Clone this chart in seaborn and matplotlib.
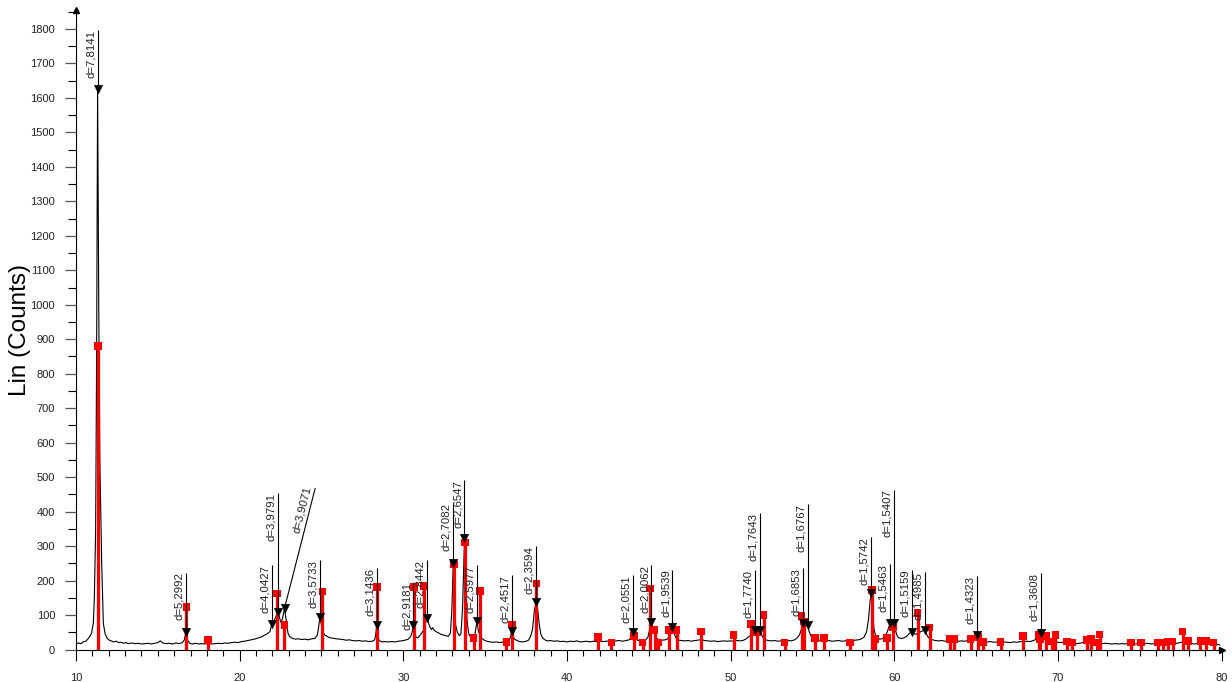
import numpy as np
import pandas as pd
import matplotlib
matplotlib.use("Agg")
import matplotlib.pyplot as plt
import matplotlib.transforms as mtransforms
from matplotlib.ticker import MultipleLocator
import seaborn as sns

# ---------------------------------------------------------------- scan data
two_theta = [
    10.00, 10.15, 10.30, 10.45, 10.60, 10.72, 10.85, 10.95, 11.06, 11.12, 11.20, 11.26,
    11.32, 11.39, 11.46, 11.57, 11.67, 11.78, 11.90, 12.00, 12.15, 12.30, 12.45, 12.60,
    12.75, 12.90, 13.05, 13.20, 13.40, 13.60, 13.80, 14.00, 14.20, 14.40, 14.60, 14.80,
    15.00, 15.15, 15.30, 15.50, 15.70, 15.90, 16.10, 16.30, 16.50, 16.62, 16.72, 16.82,
    16.95, 17.10, 17.30, 17.50, 17.70, 17.90, 18.10, 18.30, 18.50, 18.70, 18.90, 19.10,
    19.30, 19.50, 19.70, 19.90, 20.10, 20.30, 20.50, 20.70, 20.90, 21.10, 21.30, 21.50,
    21.70, 21.85, 21.97, 22.10, 22.22, 22.32, 22.42, 22.52, 22.62, 22.74, 22.84, 22.95,
    23.05, 23.20, 23.40, 23.60, 23.80, 24.00, 24.20, 24.40, 24.60, 24.75, 24.84, 24.90,
    24.97, 25.08, 25.20, 25.35, 25.50, 25.70, 25.90, 26.10, 26.30, 26.50, 26.70, 26.90,
    27.10, 27.30, 27.50, 27.70, 27.90, 28.10, 28.25, 28.32, 28.37, 28.43, 28.52, 28.70,
    28.90, 29.10, 29.30, 29.50, 29.70, 29.90, 30.10, 30.30, 30.45, 30.55, 30.61, 30.68,
    30.78, 30.90, 31.00, 31.10, 31.22, 31.33, 31.43, 31.52, 31.62, 31.72, 31.80, 31.90,
    32.00, 32.10, 32.20, 32.30, 32.45, 32.60, 32.75, 32.88, 32.97, 33.05, 33.12, 33.20,
    33.30, 33.42, 33.52, 33.62, 33.74, 33.82, 33.90, 34.00, 34.12, 34.25, 34.38, 34.50,
    34.58, 34.68, 34.80, 34.95, 35.10, 35.30, 35.50, 35.70, 35.90, 36.10, 36.30, 36.45,
    36.55, 36.62, 36.70, 36.80, 36.95, 37.10, 37.30, 37.50, 37.65, 37.78, 37.90, 38.00,
    38.11, 38.20, 38.30, 38.40, 38.52, 38.65, 38.80, 39.00, 39.20, 39.40, 39.60, 39.80,
    40.00, 40.20, 40.40, 40.60, 40.80, 41.00, 41.20, 41.40, 41.60, 41.80, 42.00, 42.20,
    42.40, 42.60, 42.80, 43.00, 43.20, 43.40, 43.60, 43.80, 43.93, 44.03, 44.12, 44.25,
    44.40, 44.60, 44.80, 44.95, 45.06, 45.16, 45.25, 45.35, 45.48, 45.60, 45.80, 46.00,
    46.15, 46.30, 46.44, 46.55, 46.68, 46.85, 47.00, 47.20, 47.40, 47.60, 47.80, 48.00,
    48.20, 48.40, 48.60, 48.80, 49.00, 49.20, 49.40, 49.60, 49.80, 50.00, 50.20, 50.40,
    50.60, 50.80, 50.95, 51.10, 51.25, 51.38, 51.47, 51.58, 51.68, 51.78, 51.88, 52.00,
    52.15, 52.30, 52.50, 52.70, 52.90, 53.10, 53.30, 53.50, 53.70, 53.90, 54.05, 54.20,
    54.30, 54.40, 54.50, 54.60, 54.70, 54.80, 54.92, 55.05, 55.20, 55.40, 55.60, 55.80,
    56.00, 56.20, 56.40, 56.60, 56.80, 57.00, 57.20, 57.40, 57.60, 57.80, 58.00, 58.15,
    58.30, 58.42, 58.52, 58.60, 58.68, 58.76, 58.86, 58.98, 59.10, 59.25, 59.40, 59.52,
    59.62, 59.70, 59.76, 59.85, 59.92, 59.99, 60.07, 60.17, 60.30, 60.45, 60.60, 60.75,
    60.88, 60.98, 61.08, 61.18, 61.30, 61.42, 61.55, 61.68, 61.78, 61.87, 61.96, 62.08,
    62.20, 62.35, 62.50, 62.70, 62.90, 63.10, 63.30, 63.50, 63.70, 63.90, 64.10, 64.30,
    64.50, 64.70, 64.88, 64.98, 65.07, 65.17, 65.30, 65.50, 65.70, 65.90, 66.10, 66.30,
    66.50, 66.70, 66.90, 67.10, 67.30, 67.50, 67.70, 67.90, 68.10, 68.30, 68.50, 68.70,
    68.85, 68.95, 69.05, 69.20, 69.35, 69.50, 69.70, 69.90, 70.10, 70.30, 70.50, 70.70,
    70.90, 71.10, 71.30, 71.50, 71.70, 71.90, 72.10, 72.30, 72.50, 72.70, 72.90, 73.10,
    73.30, 73.50, 73.70, 73.90, 74.10, 74.30, 74.50, 74.70, 74.90, 75.10, 75.30, 75.50,
    75.70, 75.90, 76.10, 76.30, 76.50, 76.70, 76.90, 77.10, 77.30, 77.50, 77.70, 77.90,
    78.10, 78.30, 78.50, 78.70, 78.90, 79.10, 79.30, 79.50, 79.70, 79.90,
]
counts = [
    16, 19, 17, 22, 24, 30, 38, 48, 76, 150, 345, 850,
    1625, 1000, 540, 250, 76, 45, 33, 28, 25, 22, 24, 20,
    21, 18, 20, 17, 19, 17, 18, 16, 17, 18, 16, 18,
    20, 25, 19, 17, 18, 16, 19, 17, 20, 28, 52, 27,
    18, 16, 18, 16, 17, 16, 18, 16, 17, 18, 17, 19,
    18, 20, 21, 20, 23, 24, 26, 28, 30, 33, 36, 41,
    46, 52, 74, 82, 96, 108, 95, 78, 90, 120, 85, 48,
    38, 33, 30, 31, 29, 30, 28, 31, 32, 42, 70, 95,
    78, 50, 42, 38, 34, 33, 31, 30, 29, 27, 28, 26,
    25, 26, 24, 25, 23, 24, 28, 45, 72, 45, 26, 22,
    23, 22, 23, 22, 24, 25, 27, 30, 38, 52, 72, 52,
    36, 34, 40, 46, 55, 72, 92, 80, 66, 58, 63, 55,
    52, 49, 47, 44, 42, 40, 38, 48, 120, 250, 140, 70,
    50, 40, 45, 120, 322, 180, 80, 45, 35, 31, 45, 82,
    55, 40, 32, 27, 24, 22, 21, 22, 20, 22, 23, 27,
    36, 53, 38, 30, 26, 23, 22, 24, 27, 38, 60, 110,
    138, 120, 75, 45, 33, 28, 25, 26, 24, 25, 23, 24,
    22, 24, 23, 25, 22, 23, 24, 22, 24, 23, 25, 23,
    24, 25, 23, 25, 26, 24, 26, 28, 36, 50, 36, 28,
    26, 27, 28, 36, 60, 80, 60, 44, 33, 29, 27, 28,
    31, 44, 64, 46, 32, 27, 26, 25, 26, 24, 26, 27,
    29, 26, 25, 24, 25, 23, 24, 25, 24, 25, 24, 26,
    25, 27, 31, 37, 42, 48, 57, 52, 53, 57, 44, 33,
    28, 26, 25, 26, 24, 25, 24, 26, 25, 28, 33, 42,
    55, 76, 72, 68, 70, 52, 38, 33, 29, 27, 26, 25,
    26, 24, 25, 26, 24, 25, 26, 25, 27, 28, 31, 36,
    50, 85, 140, 163, 110, 60, 40, 32, 30, 31, 36, 45,
    58, 70, 76, 72, 73, 76, 55, 40, 33, 32, 34, 38,
    44, 49, 52, 47, 44, 46, 50, 53, 55, 57, 45, 35,
    30, 28, 26, 25, 26, 24, 25, 24, 26, 24, 25, 24,
    26, 27, 32, 37, 42, 33, 26, 23, 22, 23, 21, 22,
    20, 22, 21, 20, 22, 21, 23, 22, 24, 23, 26, 30,
    38, 48, 36, 32, 34, 28, 25, 22, 20, 21, 19, 18,
    19, 17, 18, 20, 19, 21, 20, 18, 19, 17, 18, 17,
    16, 17, 16, 17, 16, 18, 17, 16, 17, 16, 17, 18,
    16, 17, 16, 18, 17, 18, 17, 19, 18, 21, 19, 17,
    18, 16, 17, 16, 18, 17, 16, 17, 15, 13,
]

# ------------------------------------------------------ reference stick pattern
ref_two_theta = [
    11.34, 16.75, 18.05, 22.28, 22.74, 25.05, 28.40, 30.65, 31.28, 33.09, 33.78, 34.29,
    34.67, 36.30, 36.63, 38.13, 41.90, 42.72, 44.10, 44.62, 45.08, 45.35, 45.55, 46.24,
    46.70, 48.20, 50.18, 51.24, 51.60, 52.02, 53.30, 54.34, 54.50, 55.17, 55.72, 57.31,
    58.64, 58.84, 59.55, 59.92, 61.42, 62.16, 63.42, 63.67, 64.66, 65.11, 65.41, 66.50,
    67.88, 68.85, 68.92, 69.29, 69.63, 69.84, 70.55, 70.85, 71.77, 72.03, 72.40, 72.54,
    74.47, 75.08, 76.10, 76.44, 76.71, 77.01, 77.62, 77.93, 78.70, 79.04, 79.51,
]
ref_counts = [
    880, 124, 28, 163, 71, 168, 182, 182, 185, 247, 310, 33,
    170, 21, 73, 192, 37, 20, 40, 20, 177, 57, 20, 57,
    57, 52, 42, 74, 49, 100, 20, 97, 81, 33, 34, 20,
    172, 30, 33, 64, 105, 64, 30, 30, 30, 37, 21, 21,
    40, 42, 30, 39, 23, 42, 23, 20, 28, 30, 20, 44,
    20, 20, 20, 20, 23, 23, 52, 25, 25, 25, 20,
]

# ------------------------------------------------------- labelled peaks (d, A)
d_spacings = [
    7.8141, 5.2992, 4.0427, 3.9791, 3.9071, 3.5733, 3.1436, 2.9181, 2.8442, 2.7082,
    2.6547, 2.5977, 2.4517, 2.3594, 2.0551, 2.0062, 1.9539, 1.7740, 1.7643, 1.6853,
    1.6767, 1.5742, 1.5463, 1.5407, 1.5159, 1.4985, 1.4323, 1.3608,
]
peak_counts = [
    1625, 52, 74, 108, 120, 95, 72, 72, 92, 250,
    322, 82, 53, 138, 50, 80, 64, 57, 57, 76,
    70, 163, 76, 76, 52, 57, 42, 48,
]
# height where each leader line (and its label) ends
label_tops = [
    1796, 223, 245, 454, 467, 259, 235, 197, 259, 424,
    491, 245, 216, 300, 216, 245, 232, 232, 395, 236,
    422, 325, 248, 464, 232, 225, 213, 221,
]
# one label is pushed sideways along a slanted leader: (index, 2theta of its top)
slanted_label = (4, 24.61)

WAVELENGTH = 1.5406  # Cu K-alpha1


def bragg_two_theta(d):
    return 2.0 * np.degrees(np.arcsin(WAVELENGTH / (2.0 * np.asarray(d))))


peak_two_theta = bragg_two_theta(d_spacings)
peak_labels = [("d=%.4f" % d).replace(".", ",") for d in d_spacings]

# ---------------------------------------------------------------- figure
sns.set_theme(style="ticks")
plt.rcParams["font.family"] = ["Liberation Sans", "DejaVu Sans"]

W, H = 1232, 682
fig = plt.figure(figsize=(W / 100, H / 100), dpi=100)
fig.patch.set_facecolor("white")
ax = fig.add_axes([76 / W, 32.5 / H, (1221.6 - 76) / W, (649.5 - 10) / H])
ax.set_facecolor("white")
ax.set_xlim(10, 80)
ax.set_ylim(0, 1855)

scan = pd.DataFrame({"two_theta": two_theta, "counts": counts})
sns.lineplot(data=scan, x="two_theta", y="counts", color="black", linewidth=0.8,
             estimator=None, sort=False, ax=ax, zorder=2)

# reference sticks with square caps
ax.vlines(ref_two_theta, 0, ref_counts, color="#ff0000", linewidth=2.3, zorder=3)
sns.scatterplot(x=ref_two_theta, y=ref_counts, marker="s", s=30, color="#ff0000",
                edgecolor="none", linewidth=0, ax=ax, zorder=4, legend=False)

# peak markers, leader lines and d-spacing labels
slant_idx, slant_x = slanted_label
vert_idx = [i for i in range(len(d_spacings)) if i != slant_idx]
ax.vlines(peak_two_theta[vert_idx], np.array(peak_counts)[vert_idx],
          np.array(label_tops)[vert_idx], color="black", linewidth=0.8, zorder=5)
ax.plot([peak_two_theta[slant_idx], slant_x],
        [peak_counts[slant_idx], label_tops[slant_idx]],
        color="black", linewidth=0.8, zorder=5)
sns.scatterplot(x=peak_two_theta, y=peak_counts, marker="v", s=38, color="black",
                edgecolor="black", linewidth=0.3, ax=ax, zorder=6, legend=False)

label_kw = dict(fontsize=8.2, color="#222222", ha="right", va="bottom",
                rotation_mode="anchor", zorder=7)
shift = mtransforms.ScaledTranslation(-1.3 / 72, 0, fig.dpi_scale_trans)
for i in vert_idx:
    ax.text(peak_two_theta[i], label_tops[i], peak_labels[i], rotation=90,
            transform=ax.transData + shift, **label_kw)

p0 = ax.transData.transform((peak_two_theta[slant_idx], peak_counts[slant_idx]))
p1 = ax.transData.transform((slant_x, label_tops[slant_idx]))
ang = np.degrees(np.arctan2(p1[1] - p0[1], p1[0] - p0[0]))
a = np.radians(ang)
slant_shift = mtransforms.ScaledTranslation(-1.3 * np.sin(a) / 72, 1.3 * np.cos(a) / 72,
                                            fig.dpi_scale_trans)
ax.text(slant_x, label_tops[slant_idx], peak_labels[slant_idx], rotation=ang,
        transform=ax.transData + slant_shift, **label_kw)

# axes styling
sns.despine(ax=ax)
for side in ("left", "bottom"):
    ax.spines[side].set_color("black")
    ax.spines[side].set_linewidth(0.8)

ax.xaxis.set_major_locator(MultipleLocator(10))
ax.xaxis.set_minor_locator(MultipleLocator(1))
ax.yaxis.set_major_locator(MultipleLocator(100))
ax.yaxis.set_minor_locator(MultipleLocator(50))
ax.tick_params(axis="x", which="major", direction="out", length=8, width=0.8,
               color="black", pad=9.2, labelsize=8, labelcolor="#222222")
ax.tick_params(axis="x", which="minor", direction="out", length=4.2, width=0.8,
               color="black")
ax.tick_params(axis="y", which="major", direction="out", length=8, width=0.9,
               color="#555555", pad=7, labelsize=8, labelcolor="#222222")
ax.tick_params(axis="y", which="minor", direction="out", length=5.5, width=0.8,
               color="black")
ax.set_yticks(np.arange(0, 1801, 100))
ax.set_xlabel("")
ax.set_ylabel("Lin (Counts)", fontsize=17.5, color="black", va="center")
ax.yaxis.set_label_coords((20 - 76) / (1221.6 - 76), 0.5)

# arrow tips on both axes
ax.plot([0], [1], marker="^", ms=4, color="black", transform=ax.transAxes,
        clip_on=False, zorder=8)
ax.plot([1], [0], marker=">", ms=4, color="black", transform=ax.transAxes,
        clip_on=False, zorder=8)

fig.savefig("out.png", dpi=100, facecolor="white")
